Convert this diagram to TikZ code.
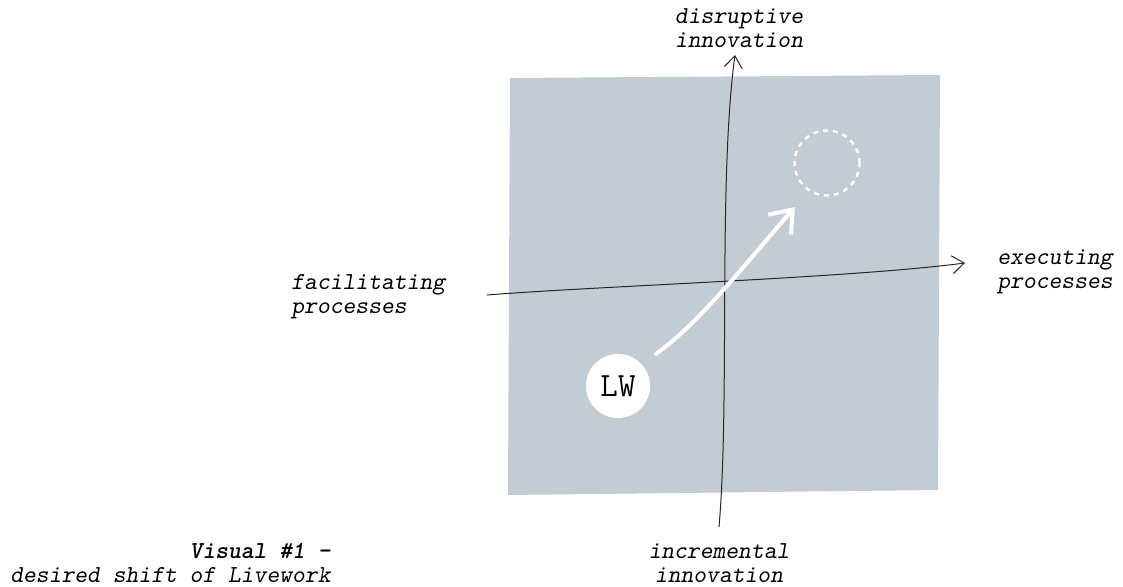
\documentclass[tikz,border=0pt]{standalone}
\usetikzlibrary{arrows.meta}
\definecolor{quadgray}{HTML}{C3CBD3}

\begin{document}
\begin{tikzpicture}[x=0.5pt, y=-0.5pt,
			txt/.style={font=\ttfamily\slshape\fontsize{12.2}{12}\selectfont, inner sep=0pt},
			axis/.style={draw=black!85, line width=0.5pt, -{Straight Barb[length=6pt, width=9pt]}}]
			\useasboundingbox (0,0) rectangle (1123,587);
			% field
			\fill[quadgray] (510,78) -- (940,75) -- (938,490) -- (508,495) -- cycle;
			% axis ends
			\coordinate (south) at (719,527);
			\coordinate (north) at (735,55);
			\coordinate (west) at (487,295);
			\coordinate (east) at (965,263);
			\path[axis] (south) .. controls (730,400) and (718,180) .. (north);
			\path[axis] (west) .. controls (600,286) and (850,278) .. (east);
			% labels
			\node[txt, align=center](disruptive) at (739,28){disruptive\\innovation};
			\node[txt, align=center](incremental) at (719,563){incremental\\innovation};
			\node[txt, align=left, anchor=west](facilitating) at (291,297){facilitating\\processes};
			\node[txt, align=left, anchor=west](executing) at (997,272){executing\\processes};
			\node[txt, align=right, anchor=east](caption) at (331,563){\textbf{Visual \#1 –}\\desired shift of Livework};
			% position and shift
			\node[circle, fill=white, minimum size=32pt, inner sep=0pt, font=\ttfamily\fontsize{17}{20}\selectfont](lw) at (618,386){LW};
			\node[circle, draw=white, dash pattern=on 2.5pt off 2.5pt, line width=1.2pt, minimum size=32.5pt](goal) at (827,163){};
			\coordinate (shiftstart) at (656,354);
			\coordinate (shiftend) at (795,207);
			\path[draw=white, line width=2pt, line cap=round, -{Straight Barb[length=10pt, width=15pt]}] (shiftstart) .. controls (700,322) and (740,270) .. (shiftend);
	\end{tikzpicture}
\end{document}
